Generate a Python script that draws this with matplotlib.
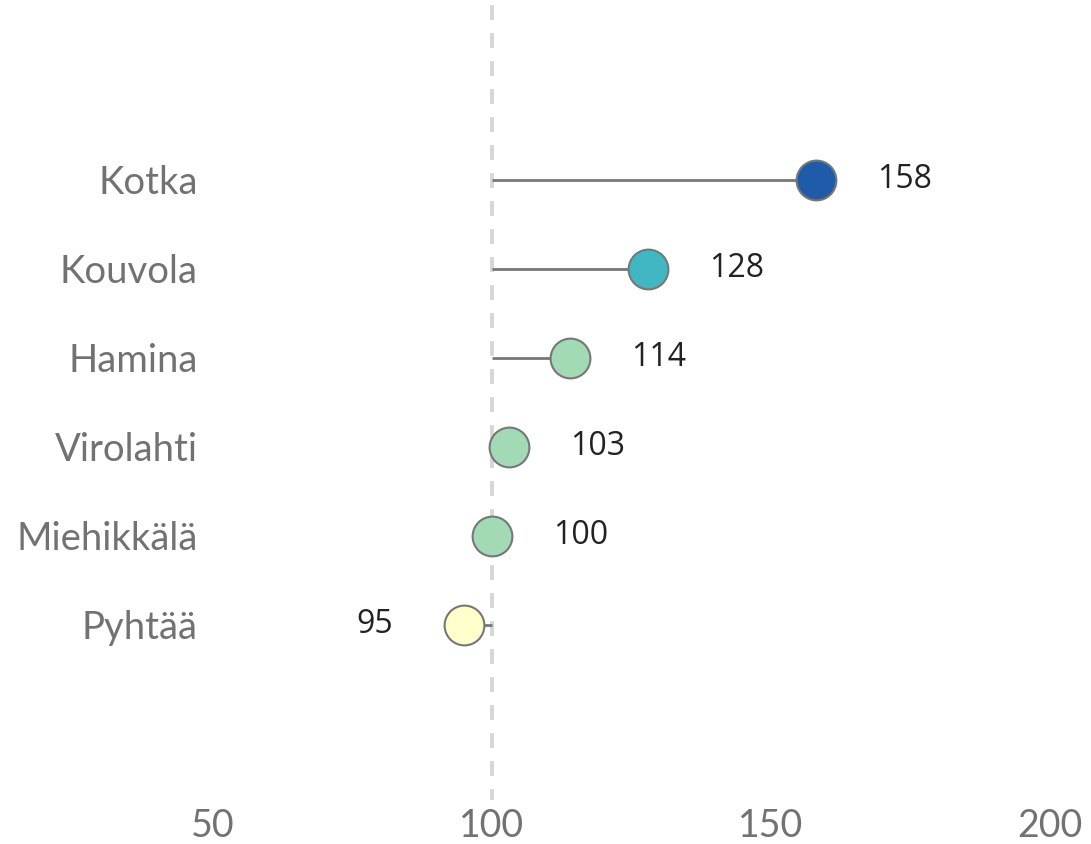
import matplotlib
matplotlib.use("Agg")
import matplotlib.pyplot as plt

categories = ["Kotka", "Kouvola", "Hamina", "Virolahti", "Miehikkälä", "Pyhtää"]
values = [158, 128, 114, 103, 100, 95]
colors = ["#1f5ba8", "#41b7c4", "#a1dab4", "#a1dab4", "#a1dab4", "#ffffcc"]
baseline = 100
xticks = [50, 100, 150, 200]

fig = plt.figure(figsize=(10.91, 8.44), dpi=100)
ax = fig.add_axes([213/1091, 44/844, 837/1091, 800/844])

ypos = list(range(len(categories)))
ax.axvline(baseline, color="#d6d6d6", lw=2.8, ls=(1, (3.8, 3.4)), zorder=1)
for y, v, c in zip(ypos, values, colors):
    ax.plot([baseline, v], [y, y], color="#777777", lw=2, zorder=2, solid_capstyle="butt")
    ax.scatter([v], [y], s=820, color=c, edgecolor="#777777", linewidth=1.5, zorder=3)
    if v >= baseline:
        ax.annotate(str(v), (v, y), xytext=(44, 0), textcoords="offset points",
                    ha="left", va="center", fontsize=23, family="Open Sans", color="#222222")
    else:
        ax.annotate(str(v), (v, y), xytext=(-51, 0), textcoords="offset points",
                    ha="right", va="center", fontsize=23, family="Open Sans", color="#222222")

ax.set_xlim(50, 200)
ax.set_ylim(6.97, -2.02)
ax.set_yticks(ypos)
ax.set_yticklabels(categories, family="Lato", fontsize=27.5, color="#727272")
ax.set_xticks(xticks)
ax.set_xticklabels([str(t) for t in xticks], family="Lato", fontsize=27, color="#727272")
ax.tick_params(axis="both", length=0)
ax.tick_params(axis="y", pad=11)
ax.tick_params(axis="x", pad=6)
for s in ax.spines.values():
    s.set_visible(False)

fig.savefig("out.png", dpi=100)
